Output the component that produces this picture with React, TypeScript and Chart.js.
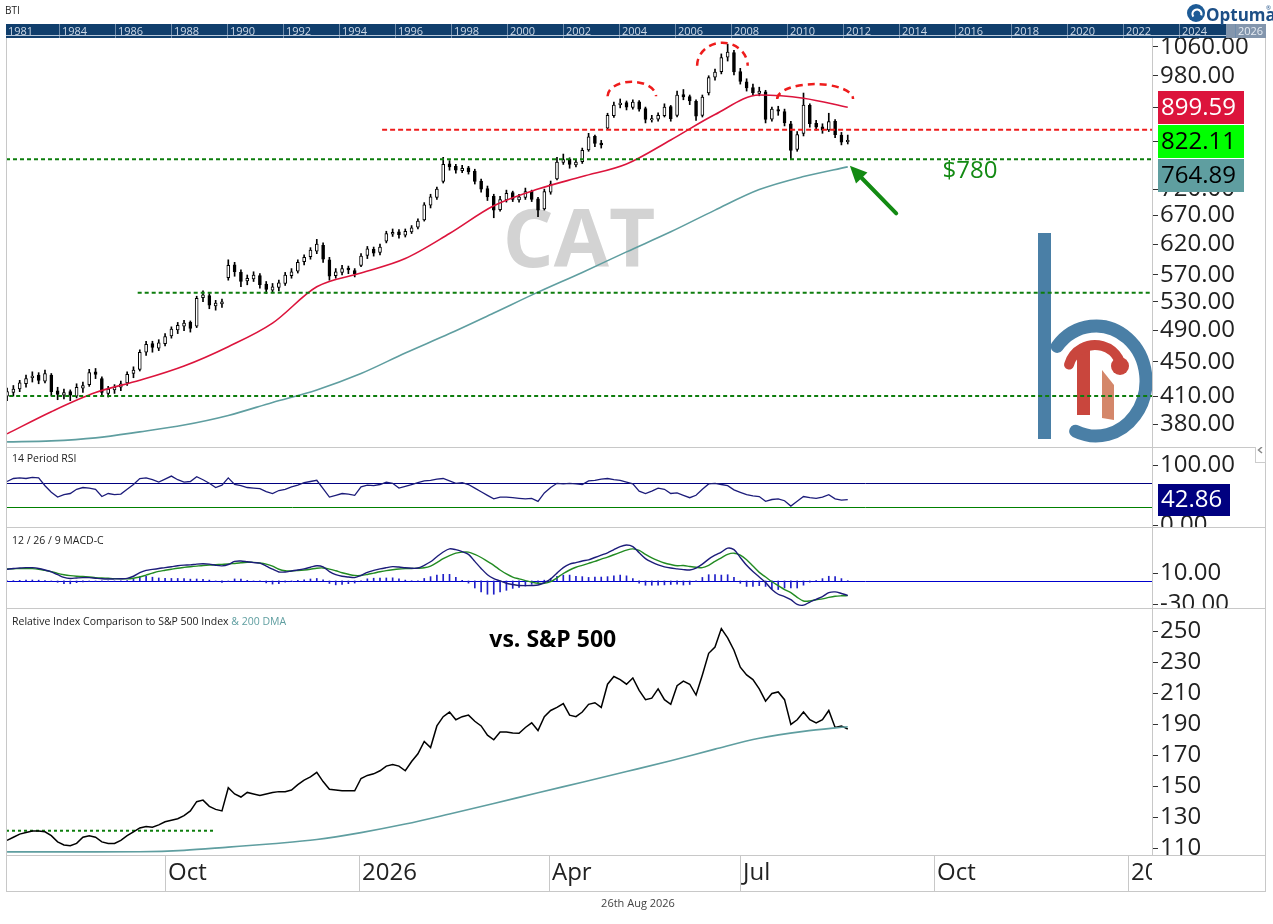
import { useEffect, useRef } from "react";
import { Chart, registerables } from "chart.js";

Chart.register(...registerables);

// ---------------- data ----------------
const START_UTC = Date.UTC(2025, 6, 18);
const DAY_MS = 86400000;
const CANDLE_STEP_DAYS = 3;
const MA_STEP_DAYS = 21;
const X_MIN = -0.5;
const X_MAX = 543.4;

const tickerWatermark = "CAT";
const tickerCode = "BTI";
const lastDateLabel = "26th Aug 2026";

// [open, high, low, close]
const candles: number[][] = [
  [410, 419, 405, 415], [414, 422, 410, 418], [418, 428, 415, 425], [424, 434, 420, 430], [431, 438, 426, 433],
  [434, 437, 424, 428], [427, 440, 425, 436], [434, 436, 410, 415], [416, 420, 406, 412], [411, 418, 407, 414],
  [415, 417, 405, 411], [410, 424, 408, 420], [419, 426, 414, 422], [423, 441, 421, 437], [438, 442, 430, 435],
  [430, 432, 410, 414], [413, 421, 409, 418], [417, 423, 413, 420], [420, 427, 416, 424], [425, 438, 422, 435],
  [436, 444, 431, 440], [441, 465, 439, 462], [462, 476, 458, 472], [473, 476, 462, 468], [467, 478, 464, 474],
  [473, 486, 470, 482], [483, 495, 480, 492], [491, 501, 486, 497], [496, 504, 490, 500], [501, 503, 488, 493],
  [496, 538, 494, 535], [536, 546, 530, 540], [539, 542, 520, 525], [524, 532, 518, 528], [527, 534, 522, 530],
  [566, 594, 562, 585], [586, 590, 568, 575], [574, 578, 552, 560], [561, 570, 555, 565], [564, 575, 560, 570],
  [569, 572, 550, 555], [556, 560, 542, 548], [547, 557, 543, 552], [551, 562, 546, 558], [557, 574, 554, 570],
  [569, 580, 565, 575], [576, 594, 573, 590], [591, 602, 586, 598], [599, 614, 595, 610], [608, 628, 604, 620],
  [618, 622, 590, 595], [594, 598, 562, 568], [569, 580, 565, 575], [574, 585, 570, 580], [581, 584, 572, 578],
  [577, 580, 567, 572], [585, 604, 583, 600], [601, 616, 596, 612], [611, 615, 600, 605], [606, 620, 602, 615],
  [625, 642, 622, 638], [637, 646, 633, 640], [641, 645, 630, 636], [635, 646, 632, 642], [641, 652, 638, 648],
  [649, 664, 646, 660], [662, 694, 660, 690], [689, 710, 684, 705], [704, 724, 700, 720], [735, 785, 732, 770],
  [771, 778, 758, 765], [766, 770, 752, 758], [757, 768, 753, 762], [763, 766, 750, 755], [756, 760, 730, 735],
  [736, 740, 714, 720], [721, 726, 698, 705], [706, 710, 666, 680], [681, 706, 678, 700], [699, 718, 695, 712],
  [713, 716, 696, 700], [699, 710, 695, 705], [704, 722, 700, 715], [716, 718, 696, 700], [701, 704, 668, 680],
  [682, 720, 680, 715], [714, 736, 710, 730], [740, 785, 738, 775], [774, 792, 770, 780], [781, 784, 762, 770],
  [769, 780, 765, 775], [776, 805, 772, 800], [801, 838, 798, 830], [831, 834, 808, 815], [816, 822, 805, 812],
  [850, 885, 848, 880], [879, 912, 875, 905], [906, 920, 898, 910], [911, 915, 893, 900], [899, 918, 895, 912],
  [913, 916, 890, 895], [896, 900, 862, 870], [869, 880, 864, 872], [871, 886, 866, 880], [879, 908, 876, 900],
  [901, 904, 866, 872], [880, 940, 876, 930], [931, 944, 918, 925], [926, 930, 906, 915], [914, 918, 868, 878],
  [880, 930, 876, 925], [935, 980, 930, 975], [976, 998, 968, 990], [991, 1040, 985, 1030], [1031, 1068, 1020, 1045],
  [1044, 1050, 982, 990], [991, 1000, 958, 965], [964, 972, 940, 948], [949, 958, 930, 935], [934, 950, 928, 940],
  [938, 942, 862, 870], [871, 900, 866, 895], [894, 902, 880, 890], [889, 895, 855, 862], [860, 866, 780, 800],
  [802, 842, 798, 835], [838, 935, 832, 905], [904, 908, 852, 860], [861, 868, 845, 852], [853, 860, 838, 845],
  [846, 885, 842, 865], [866, 870, 828, 835], [834, 840, 812, 818], [819, 834, 814, 822.11],
];

// moving averages, one value every MA_STEP_DAYS
const ma50Values = [370, 393, 414, 428, 445, 469, 500, 552, 573, 596, 638, 688, 720, 745, 771, 823, 882, 930, 922, 899.59];
const ma200Values = [362, 363, 366, 372, 379, 389, 403, 417, 436, 461, 486, 514, 544, 574, 607, 641, 680, 719, 745, 764.89];

// one value per candle
const rsiValues = [
  73, 78, 79, 78, 80, 79, 66, 55, 47, 51,
  53, 60, 63, 62, 60, 48, 53, 51, 52, 60,
  68, 78, 79, 76, 72, 77, 82, 76, 72, 73,
  81, 76, 70, 63, 67, 79, 68, 66, 63, 62,
  61, 56, 53, 58, 60, 64, 67, 71, 73, 75,
  61, 47, 50, 53, 52, 50, 64, 67, 66, 68,
  72, 70, 62, 65, 68, 71, 74, 75, 77, 78,
  74, 70, 71, 68, 62, 56, 50, 44, 47, 47,
  46, 45, 44, 45, 40, 54, 63, 70, 69, 70,
  69, 68, 74, 75, 77, 78, 76, 75, 72, 69,
  57, 53, 57, 62, 60, 53, 54, 50, 46, 50,
  60, 69, 70, 68, 66, 59, 55, 51, 49, 48,
  40, 43, 44, 41, 32, 40, 48, 46, 45, 47,
  51, 44, 42, 42.86,
];
const macdValues = [
  15, 16, 16.5, 17, 17, 16, 14, 11.5, 8, 4.5,
  3.2, 3.8, 4.3, 4.2, 3.5, 2.8, 2.5, 2.6, 2.8, 3.3,
  6, 10.5, 13.5, 14.8, 16, 17, 18.2, 19.5, 20.2, 20.5,
  21.5, 22, 21.5, 20, 19.3, 21, 25, 25.5, 24.5, 23.5,
  22.7, 19, 15, 11.5, 11.5, 12.8, 14, 15.5, 17.5, 19.5,
  18, 12, 8, 6, 5, 4.3, 7, 11, 13.5, 15.5,
  17, 18.3, 17.8, 16.8, 16.2, 16.5, 20, 24.5, 31, 37,
  41, 40, 37.5, 34, 25, 16, 8, 3, 0, -3,
  -4.5, -5.8, -6, -5.8, -5.2, -2, 2.5, 10, 17, 21.5,
  23.5, 25.5, 27, 30, 33, 36, 40, 44, 46, 44,
  36, 28.5, 24, 20.5, 18, 16.5, 15.5, 14.5, 14, 16.5,
  21.5, 28, 33, 37, 42, 40, 30, 20, 12, 5,
  -2, -11, -17, -20, -24, -30, -31, -27, -23.5, -20,
  -15, -14, -16, -18.5,
];
const signalValues = [
  15.4, 15.6, 15.8, 15.9, 15.8, 15, 13.5, 12, 9.7, 8,
  6.8, 6, 5.6, 5, 4.3, 3.8, 3.4, 3, 2.8, 2.7,
  3.5, 5, 7.5, 10, 12.2, 13.6, 15, 16.3, 17.3, 18.2,
  19, 19.8, 20.4, 20.8, 21.2, 21.6, 22.4, 23.2, 23.8, 23.7,
  23, 21.5, 19, 15, 13, 12.8, 13.3, 14, 15, 16.3,
  16.6, 15.2, 13, 10.5, 8.5, 7, 7, 8.3, 10, 11.7,
  13.2, 14.3, 15.2, 15.7, 16, 16.2, 16.8, 19, 23.5, 28.5,
  32.5, 35.5, 36.8, 36.8, 34, 30, 25, 20, 14, 9,
  5, 2.6, 0.5, -1.5, -3, -3, -1, 4, 9.5, 14,
  17.5, 20, 22.5, 25, 28, 30.5, 33.5, 36.5, 39.5, 41,
  39, 34, 29.5, 26, 23, 21, 19.5, 19.7, 18.5, 17.5,
  17, 20, 25, 29.5, 34, 35.5, 33, 27, 19, 11,
  5, -1, -6, -11, -15, -21, -25.6, -25.5, -24, -23,
  -21, -19.5, -19, -18.8,
];
const relValues = [
  115, 117, 119, 120, 121, 121, 120.5, 118, 114, 112,
  111.5, 113, 117, 118, 117, 114, 113, 113, 115, 118,
  120.5, 123, 124, 123.5, 125, 127, 128, 129, 131, 134,
  140, 141, 137, 135, 134, 149, 145, 143, 146, 145,
  144, 145, 146, 146.5, 146.5, 147.5, 151, 154, 156, 159,
  153, 148, 147.5, 147, 147, 147, 155, 157, 158, 160,
  163, 164, 163, 160, 166, 171, 179, 175, 189, 195,
  198, 193, 195, 196, 192, 189, 183, 180, 185, 185,
  184.5, 184.3, 188, 191, 186, 195, 199, 201, 203.5, 196,
  195, 198, 203, 204, 201, 216, 221, 219, 216, 220,
  212, 206, 207, 213, 206, 203, 215, 218, 216, 209,
  222, 236, 240, 252, 246, 238, 227, 222, 219, 213,
  205, 210, 211, 206, 190, 193, 198, 193, 191, 193,
  199, 188, 189, 187,
];
const relDmaValues = [107.5, 107.5, 107.5, 107.6, 108.5, 110.6, 112.8, 115.5, 120, 125.5, 132, 138.8, 145.8, 152.6, 159.5, 166.5, 174, 181, 185.5, 188.5];

// axis ticks
const priceTicks = [1060, 980, 900, 820, 720, 670, 620, 570, 530, 490, 450, 410, 380];
const rsiTicks = [100, 0];
const macdTicks = [10, -30];
const relTicks = [250, 230, 210, 190, 170, 150, 130, 110];
const xTickLabels = ["Oct", "2026", "Apr", "Jul", "Oct", "2027"];
const xTickDates = [[2025, 9, 1], [2026, 0, 1], [2026, 3, 1], [2026, 6, 1], [2026, 9, 1], [2027, 0, 1]];
const navYears = [1981, 1984, 1986, 1988, 1990, 1992, 1994, 1996, 1998, 2000, 2002, 2004, 2006, 2008, 2010, 2012, 2014, 2016, 2018, 2020, 2022, 2024, 2026];

// axis ranges
const PRICE_MIN = 357, PRICE_MAX = 1086;
const RSI_MIN = -2.8, RSI_MAX = 130.5;
const MACD_MIN = -34.6, MACD_MAX = 69;
const REL_MIN = 105.5, REL_MAX = 265.3;

// annotations (in data units: day index from start, price)
const rsiUpper = 70, rsiLower = 30;
const resistanceLevel = 846, resistanceFromDay = 178;
const supportLevels = [781, 543, 410];
const supportFromDays = [-0.5, 62, 1];
const arcs = [[285, 308, 927, 964], [327.5, 351.5, 1007, 1072], [365.5, 401.5, 920, 958]];
const arrowFrom = [422, 674];
const arrowTo = [400, 767];
const supportLabel = "$780";
const supportLabelAt = [444, 755];
const relLevel = 121.2, relLevelToDay = 99;
const relTitle = "vs. S&P 500";
const relTitleAt = [259, 244];

// ---------------- styles ----------------
const W = 1273;
const FONT = "'Open Sans', 'Noto Sans', sans-serif";
const BORDER = "#c8c8c8";
const TEXT = "#222222";
const AXIS_W = 114;
const PAD_L = 6, PAD_R = 7;
const GREEN = "#138a13";
const DASH_GREEN = "#0d7d0d";
const RED = "#ee1c1c";
const CRIMSON = "#dc143c";
const TEAL = "#5f9ea0";
const NAVY = "#1c1c7a";

const dayOf = (d: number[]) => (Date.UTC(d[0], d[1], d[2]) - START_UTC) / DAY_MS;
const candleDay = (i: number) => i * CANDLE_STEP_DAYS;
const perCandle = (arr: number[]) => arr.map((v, i) => ({ x: candleDay(i), y: v }));
const perMa = (arr: number[]) => arr.map((v, j) => ({ x: j * MA_STEP_DAYS, y: v }));

function line(ctx: CanvasRenderingContext2D, x1: number, y1: number, x2: number, y2: number) {
  ctx.beginPath();
  ctx.moveTo(x1, y1);
  ctx.lineTo(x2, y2);
  ctx.stroke();
}

function clipArea(ctx: CanvasRenderingContext2D, ca: any) {
  ctx.beginPath();
  ctx.rect(ca.left, ca.top, ca.right - ca.left, ca.bottom - ca.top);
  ctx.clip();
}

function valueBox(ctx: CanvasRenderingContext2D, x: number, y: number, w: number, h: number, text: string, bg: string, fg: string) {
  ctx.fillStyle = bg;
  ctx.fillRect(x, Math.round(y - h / 2), w, h);
  ctx.fillStyle = fg;
  ctx.font = `24px ${FONT}`;
  ctx.textAlign = "left";
  ctx.textBaseline = "middle";
  ctx.fillText(text, x + 3, y + 1);
}

function sideFrame(ctx: CanvasRenderingContext2D, top: number, bottom: number) {
  ctx.strokeStyle = BORDER;
  ctx.lineWidth = 1;
  line(ctx, 6.5, top, 6.5, bottom);
  line(ctx, 1265.5, top, 1265.5, bottom);
}

function panelTitle(ctx: CanvasRenderingContext2D, text: string, y: number) {
  ctx.fillStyle = TEXT;
  ctx.font = `10.5px ${FONT}`;
  ctx.textAlign = "left";
  ctx.textBaseline = "middle";
  ctx.fillText(text, 12, y);
}

function yAxis(base: any, tickValues: number[], fmt: (v: number) => string) {
  return {
    ...base,
    position: "right",
    afterFit: (s: any) => {
      s.width = AXIS_W;
      s.paddingTop = 0;
      s.paddingBottom = 0;
    },
    afterBuildTicks: (s: any) => {
      s.ticks = tickValues.map((v) => ({ value: v }));
    },
    border: { display: true, color: BORDER, width: 1 },
    grid: { display: true, drawOnChartArea: false, drawTicks: true, tickLength: 6, color: "#333", lineWidth: 1 },
    ticks: { autoSkip: false, padding: 2, color: TEXT, font: { family: FONT, size: 24 }, callback: (v: any) => fmt(Number(v)) },
  };
}

const xAxis = { type: "linear", min: X_MIN, max: X_MAX, display: false, offset: false };

const baseOptions = (pad: any) => ({
  responsive: false,
  maintainAspectRatio: false,
  animation: false,
  events: [],
  layout: { padding: { left: PAD_L, right: PAD_R, top: 0, bottom: 0, ...pad } },
  plugins: { legend: { display: false }, tooltip: { enabled: false } },
});

function drawLogo(ctx: CanvasRenderingContext2D, ca: any) {
  const ox = ca.right, oy = ca.bottom;
  const blue = "#4a7fa6";
  ctx.fillStyle = blue;
  ctx.fillRect(ox - 114, oy - 214, 13, 206);
  ctx.strokeStyle = blue;
  ctx.lineWidth = 13;
  ctx.lineCap = "round";
  ctx.beginPath();
  ctx.ellipse(ox - 56, oy - 66, 50, 55, 0, (-141 * Math.PI) / 180, (114 * Math.PI) / 180);
  ctx.stroke();
  // red r
  ctx.fillStyle = "#c9463d";
  ctx.fillRect(ox - 75, oy - 100, 13, 68);
  ctx.strokeStyle = "#c9463d";
  ctx.lineWidth = 10;
  ctx.beginPath();
  ctx.ellipse(ox - 57, oy - 75, 27, 27, 0, (196 * Math.PI) / 180, (330 * Math.PI) / 180);
  ctx.stroke();
  ctx.beginPath();
  ctx.arc(ox - 32, oy - 81, 9, 0, Math.PI * 2);
  ctx.fill();
  ctx.fillStyle = "#d4876a";
  ctx.beginPath();
  ctx.moveTo(ox - 50, oy - 77);
  ctx.lineTo(ox - 38, oy - 62);
  ctx.lineTo(ox - 38, oy - 27);
  ctx.lineTo(ox - 50, oy - 29);
  ctx.closePath();
  ctx.fill();
  ctx.lineCap = "butt";
}

function drawHeader(ctx: CanvasRenderingContext2D) {
  ctx.fillStyle = TEXT;
  ctx.font = `10px ${FONT}`;
  ctx.textAlign = "left";
  ctx.textBaseline = "alphabetic";
  ctx.fillText(tickerCode, 5, 14);
  // navigator band
  ctx.fillStyle = "#103e6c";
  ctx.fillRect(6, 24, 1260, 14);
  ctx.fillStyle = "#8396ad";
  ctx.fillRect(1226, 24, 40, 14);
  ctx.font = `11px ${FONT}`;
  ctx.textBaseline = "middle";
  ctx.strokeStyle = "#6f8cab";
  ctx.lineWidth = 1;
  navYears.forEach((yr, k) => {
    const x = k === 0 ? 8 : 62 + (yr - 1984) * 28;
    if (k > 0) line(ctx, x - 2.5, 24, x - 2.5, 38);
    ctx.fillStyle = yr >= 2026 ? "#e6ecf3" : "#cbd7e5";
    ctx.fillText(String(yr), x, 31.5);
  });
  ctx.strokeStyle = "#b8c8da";
  line(ctx, 6, 35.5, 1226, 35.5);
  // Optuma logo
  ctx.fillStyle = "#1d5b96";
  ctx.beginPath();
  ctx.arc(1196, 13, 9, 0, Math.PI * 2);
  ctx.fill();
  ctx.strokeStyle = "#ffffff";
  ctx.lineWidth = 2.2;
  ctx.beginPath();
  ctx.arc(1197, 14, 4.5, 0.8 * Math.PI, 2.1 * Math.PI);
  ctx.stroke();
  ctx.fillStyle = "#1d4f86";
  ctx.font = `bold 17px ${FONT}`;
  ctx.textBaseline = "alphabetic";
  ctx.fillText("Optuma", 1206, 21);
  ctx.font = `6px ${FONT}`;
  ctx.fillText("®", 1266, 10);
}

// ---------------- charts ----------------
function buildPrice(canvas: HTMLCanvasElement) {
  const wickData = candles.map((c, i) => ({ x: candleDay(i), y: [c[2], c[1]] }));
  const bodyData = candles.map((c, i) => ({ x: candleDay(i), y: [Math.min(c[0], c[3]), Math.max(c[0], c[3]) + (c[0] === c[3] ? 0.5 : 0)] }));
  const bodyColors = candles.map((c) => (c[3] >= c[0] ? "#ffffff" : "#000000"));
  const plugin = {
    id: "pricePanel",
    beforeDatasetsDraw(chart: any) {
      const { ctx, chartArea: ca } = chart;
      ctx.save();
      clipArea(ctx, ca);
      ctx.fillStyle = "#d3d3d3";
      ctx.font = `bold 80px ${FONT}`;
      ctx.textAlign = "center";
      ctx.textBaseline = "middle";
      ctx.fillText(tickerWatermark, (ca.left + ca.right) / 2, (ca.top + ca.bottom) / 2 + 2);
      drawLogo(ctx, ca);
      ctx.restore();
    },
    afterDatasetsDraw(chart: any) {
      const { ctx, chartArea: ca, scales } = chart;
      const x = scales.x, y = scales.y;
      ctx.save();
      clipArea(ctx, ca);
      ctx.lineWidth = 2;
      ctx.setLineDash([5, 3]);
      ctx.strokeStyle = RED;
      const ry = y.getPixelForValue(resistanceLevel);
      line(ctx, x.getPixelForValue(resistanceFromDay), ry, ca.right, ry);
      ctx.strokeStyle = DASH_GREEN;
      ctx.setLineDash([4, 3]);
      supportLevels.forEach((v, k) => {
        const py = y.getPixelForValue(v);
        line(ctx, x.getPixelForValue(supportFromDays[k]), py, ca.right, py);
      });
      ctx.strokeStyle = RED;
      ctx.lineWidth = 2.5;
      ctx.setLineDash([7, 5]);
      arcs.forEach(([d1, d2, base, peak]) => {
        const x1 = x.getPixelForValue(d1), x2 = x.getPixelForValue(d2);
        const yb = y.getPixelForValue(base), yt = y.getPixelForValue(peak);
        ctx.beginPath();
        ctx.ellipse((x1 + x2) / 2, yb, (x2 - x1) / 2, yb - yt, 0, Math.PI, 2 * Math.PI);
        ctx.stroke();
      });
      ctx.setLineDash([]);
      // arrow
      const fx = x.getPixelForValue(arrowFrom[0]), fy = y.getPixelForValue(arrowFrom[1]);
      const tx = x.getPixelForValue(arrowTo[0]), ty = y.getPixelForValue(arrowTo[1]);
      const ang = Math.atan2(ty - fy, tx - fx);
      const head = 17, hw = 8;
      const bx = tx - head * Math.cos(ang), by = ty - head * Math.sin(ang);
      ctx.strokeStyle = GREEN;
      ctx.lineWidth = 4;
      ctx.lineCap = "round";
      line(ctx, fx, fy, bx, by);
      ctx.lineCap = "butt";
      ctx.fillStyle = GREEN;
      ctx.beginPath();
      ctx.moveTo(tx, ty);
      ctx.lineTo(bx + hw * Math.sin(ang), by - hw * Math.cos(ang));
      ctx.lineTo(bx - hw * Math.sin(ang), by + hw * Math.cos(ang));
      ctx.closePath();
      ctx.fill();
      ctx.font = `24px ${FONT}`;
      ctx.textAlign = "left";
      ctx.textBaseline = "middle";
      ctx.fillText(supportLabel, x.getPixelForValue(supportLabelAt[0]), y.getPixelForValue(supportLabelAt[1]));
      ctx.restore();
    },
    afterDraw(chart: any) {
      const { ctx, chartArea: ca, scales } = chart;
      const y = scales.y;
      ctx.save();
      drawHeader(ctx);
      sideFrame(ctx, 38, ca.bottom);
      const boxes = [
        { v: ma50Values[ma50Values.length - 1], bg: CRIMSON, fg: "#ffffff" },
        { v: candles[candles.length - 1][3], bg: "#00ff00", fg: "#000000" },
        { v: ma200Values[ma200Values.length - 1], bg: TEAL, fg: "#000000" },
      ]
        .map((b) => ({ ...b, py: y.getPixelForValue(b.v) }))
        .sort((a, b) => a.py - b.py);
      let prev = -1e9;
      boxes.forEach((b) => {
        const py = Math.max(b.py, prev + 34);
        prev = py;
        valueBox(ctx, ca.right + 6, py, 86, 33, b.v.toFixed(2), b.bg, b.fg);
      });
      ctx.restore();
    },
  };
  return new Chart(canvas, {
    type: "bar",
    data: {
      datasets: [
        { type: "line", data: perMa(ma200Values), borderColor: TEAL, borderWidth: 1.6, pointRadius: 0, tension: 0.4, cubicInterpolationMode: "monotone", order: 0 },
        { type: "line", data: perMa(ma50Values), borderColor: CRIMSON, borderWidth: 1.6, pointRadius: 0, tension: 0.4, cubicInterpolationMode: "monotone", order: 0 },
        { type: "bar", data: wickData, backgroundColor: "#000000", barThickness: 1, grouped: false, order: 2 },
        { type: "bar", data: bodyData, backgroundColor: bodyColors, borderColor: "#000000", borderWidth: 1, borderSkipped: false, barThickness: 3, grouped: false, order: 1 },
      ],
    } as any,
    options: {
      ...baseOptions({ top: 38 }),
      scales: {
        x: xAxis,
        y: yAxis({ type: "logarithmic", min: PRICE_MIN, max: PRICE_MAX }, priceTicks, (v) => v.toFixed(2)),
      },
    } as any,
    plugins: [plugin as any],
  });
}

function buildRsi(canvas: HTMLCanvasElement) {
  const plugin = {
    id: "rsiPanel",
    beforeDatasetsDraw(chart: any) {
      const { ctx, chartArea: ca, scales } = chart;
      ctx.save();
      ctx.lineWidth = 1;
      ctx.strokeStyle = "#000080";
      const yu = Math.round(scales.y.getPixelForValue(rsiUpper)) + 0.5;
      line(ctx, ca.left, yu, ca.right, yu);
      ctx.strokeStyle = "#008000";
      const yl = Math.round(scales.y.getPixelForValue(rsiLower)) + 0.5;
      line(ctx, ca.left, yl, ca.right, yl);
      ctx.restore();
    },
    afterDraw(chart: any) {
      const { ctx, chartArea: ca, scales } = chart;
      ctx.save();
      ctx.strokeStyle = BORDER;
      ctx.lineWidth = 1;
      line(ctx, 6, 0.5, 1266, 0.5);
      sideFrame(ctx, 0, ca.bottom);
      panelTitle(ctx, "14 Period RSI", 12);
      const last = rsiValues[rsiValues.length - 1];
      valueBox(ctx, ca.right + 6, scales.y.getPixelForValue(last), 72, 32, last.toFixed(2), "#000080", "#ffffff");
      // collapse button
      ctx.fillStyle = "#ffffff";
      ctx.fillRect(1255, 0, 10, 16);
      ctx.strokeStyle = "#cccccc";
      ctx.strokeRect(1255.5, -6.5, 10, 22);
      ctx.strokeStyle = "#888888";
      ctx.lineWidth = 1.5;
      ctx.beginPath();
      ctx.moveTo(1262, 0);
      ctx.lineTo(1258.5, 3);
      ctx.lineTo(1262, 6);
      ctx.stroke();
      ctx.restore();
    },
  };
  return new Chart(canvas, {
    type: "line",
    data: {
      datasets: [{ data: perCandle(rsiValues), borderColor: NAVY, borderWidth: 1.3, pointRadius: 0, tension: 0 }],
    } as any,
    options: {
      ...baseOptions({}),
      scales: {
        x: xAxis,
        y: yAxis({ type: "linear", min: RSI_MIN, max: RSI_MAX }, rsiTicks, (v) => v.toFixed(2)),
      },
    } as any,
    plugins: [plugin as any],
  });
}

function buildMacd(canvas: HTMLCanvasElement) {
  const histData = macdValues.map((m, i) => ({ x: candleDay(i), y: m - signalValues[i] }));
  const plugin = {
    id: "macdPanel",
    beforeDatasetsDraw(chart: any) {
      const { ctx, chartArea: ca, scales } = chart;
      ctx.save();
      ctx.lineWidth = 1;
      ctx.strokeStyle = "#0000cd";
      const y0 = Math.round(scales.y.getPixelForValue(0)) + 0.5;
      line(ctx, ca.left, y0, ca.right, y0);
      ctx.restore();
    },
    afterDraw(chart: any) {
      const { ctx, chartArea: ca } = chart;
      ctx.save();
      ctx.strokeStyle = BORDER;
      ctx.lineWidth = 1;
      line(ctx, 6, 0.5, 1266, 0.5);
      sideFrame(ctx, 0, ca.bottom);
      panelTitle(ctx, "12 / 26 / 9 MACD-C", 14);
      ctx.restore();
    },
  };
  return new Chart(canvas, {
    type: "bar",
    data: {
      datasets: [
        { type: "line", data: perCandle(macdValues), borderColor: NAVY, borderWidth: 1.4, pointRadius: 0, tension: 0.3, order: 1 },
        { type: "line", data: perCandle(signalValues), borderColor: "#228b22", borderWidth: 1.4, pointRadius: 0, tension: 0.3, order: 2 },
        { type: "bar", data: histData, backgroundColor: "#2020c8", barThickness: 1, grouped: false, order: 3 },
      ],
    } as any,
    options: {
      ...baseOptions({}),
      scales: {
        x: xAxis,
        y: yAxis({ type: "linear", min: MACD_MIN, max: MACD_MAX }, macdTicks, (v) => v.toFixed(2)),
      },
    } as any,
    plugins: [plugin as any],
  });
}

function buildRel(canvas: HTMLCanvasElement) {
  const BAND = 36;
  const plugin = {
    id: "relPanel",
    beforeDatasetsDraw(chart: any) {
      const { ctx, chartArea: ca, scales } = chart;
      ctx.save();
      clipArea(ctx, ca);
      ctx.strokeStyle = DASH_GREEN;
      ctx.lineWidth = 2;
      ctx.setLineDash([3, 3]);
      const py = scales.y.getPixelForValue(relLevel);
      line(ctx, ca.left, py, scales.x.getPixelForValue(relLevelToDay), py);
      ctx.setLineDash([]);
      ctx.fillStyle = "#000000";
      ctx.font = `bold 23px ${FONT}`;
      ctx.textAlign = "center";
      ctx.textBaseline = "middle";
      ctx.fillText(relTitle, scales.x.getPixelForValue(relTitleAt[0]), scales.y.getPixelForValue(relTitleAt[1]));
      ctx.restore();
    },
    afterDraw(chart: any) {
      const { ctx, chartArea: ca, scales } = chart;
      const x = scales.x;
      const bottom = ca.bottom;
      const bandBottom = bottom + BAND;
      ctx.save();
      ctx.strokeStyle = BORDER;
      ctx.lineWidth = 1;
      line(ctx, 6, 0.5, 1266, 0.5);
      line(ctx, 6, bottom + 0.5, 1266, bottom + 0.5);
      line(ctx, 6, bandBottom + 0.5, 1266, bandBottom + 0.5);
      sideFrame(ctx, 0, bandBottom + 1);
      // title
      ctx.font = `10.5px ${FONT}`;
      ctx.textAlign = "left";
      ctx.textBaseline = "middle";
      ctx.fillStyle = TEXT;
      const t1 = "Relative Index Comparison to S&P 500 Index ";
      ctx.fillText(t1, 12, 14);
      ctx.fillStyle = TEAL;
      ctx.fillText("& 200 DMA", 12 + ctx.measureText(t1).width, 14);
      // x axis band
      ctx.save();
      ctx.beginPath();
      ctx.rect(ca.left, bottom, ca.right - ca.left, BAND);
      ctx.clip();
      ctx.font = `24px ${FONT}`;
      ctx.fillStyle = TEXT;
      xTickDates.forEach((d, k) => {
        const px = Math.round(x.getPixelForValue(dayOf(d))) + 0.5;
        ctx.strokeStyle = BORDER;
        line(ctx, px, bottom, px, bandBottom);
        ctx.fillText(xTickLabels[k], px + 2.5, bottom + 18.5);
      });
      ctx.restore();
      ctx.fillStyle = "#444444";
      ctx.font = `11px ${FONT}`;
      ctx.textAlign = "center";
      ctx.fillText(lastDateLabel, 638, bandBottom + 13);
      ctx.restore();
    },
  };
  return new Chart(canvas, {
    type: "line",
    data: {
      datasets: [
        { data: perMa(relDmaValues), borderColor: TEAL, borderWidth: 1.6, pointRadius: 0, tension: 0.4, cubicInterpolationMode: "monotone" },
        { data: perCandle(relValues), borderColor: "#000000", borderWidth: 1.5, pointRadius: 0, tension: 0 },
      ],
    } as any,
    options: {
      ...baseOptions({ bottom: 69 }),
      scales: {
        x: xAxis,
        y: yAxis({ type: "linear", min: REL_MIN, max: REL_MAX }, relTicks, (v) => String(Math.round(v))),
      },
    } as any,
    plugins: [plugin as any],
  });
}

function ChartCanvas({ top, height, make }: { top: number; height: number; make: (c: HTMLCanvasElement) => Chart }) {
  const ref = useRef<HTMLCanvasElement>(null);
  useEffect(() => {
    const chart = make(ref.current as HTMLCanvasElement);
    return () => chart.destroy();
  }, [make]);
  return (
    <canvas
      ref={ref}
      width={W}
      height={height}
      style={{ position: "absolute", left: 0, top, width: W, height, display: "block" }}
    />
  );
}

export default function App() {
  return (
    <div style={{ position: "absolute", left: 0, top: 0, width: W, height: 924, background: "#ffffff", overflow: "hidden" }}>
      <ChartCanvas top={0} height={447} make={buildPrice} />
      <ChartCanvas top={447} height={80} make={buildRsi} />
      <ChartCanvas top={527} height={81} make={buildMacd} />
      <ChartCanvas top={608} height={316} make={buildRel} />
    </div>
  );
}
